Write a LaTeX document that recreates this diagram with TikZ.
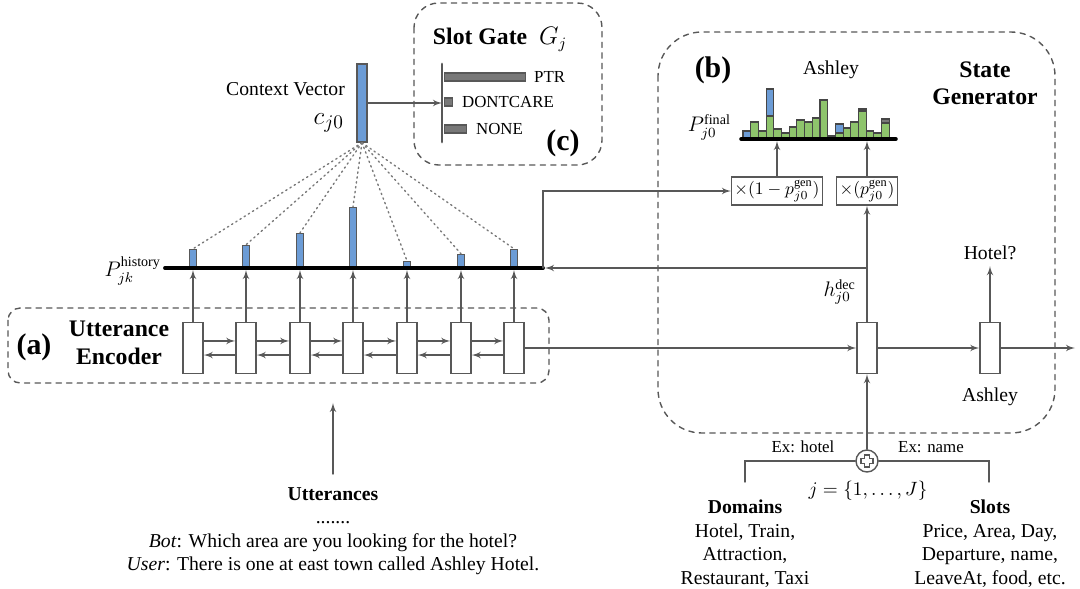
\documentclass[tikz,border=0pt]{standalone}
\usepackage{amsmath}
\usepackage{fontspec}
\setmainfont{Liberation Serif}
\usepackage{tikz}
\usetikzlibrary{arrows}
\usetikzlibrary{calc}

\definecolor{linegray}{RGB}{88,88,88}
\definecolor{barblue}{RGB}{108,156,214}
\definecolor{bargreen}{RGB}{142,196,108}
\definecolor{bargray}{RGB}{120,120,120}

\tikzset{
	cell/.style = {draw=linegray, thick, fill=white, minimum width=0.4cm, minimum height=1.02cm, inner sep=0pt},
	flow/.style = {->, >=latex', draw=linegray, thick},
	part/.style = {draw=linegray, dashed, thick},
	hbar/.style = {draw=linegray, fill=barblue, line width=0.7pt, minimum width=0.15cm, inner sep=0pt},
	gbar/.style = {draw=linegray, fill=bargray, line width=0.7pt, minimum height=0.16cm, inner sep=0pt},
	hist/.style = {draw=linegray!80!black, line width=0.6pt},
	txt/.style = {font=\fontsize{11.2}{13.4}\selectfont},
	smalltxt/.style = {font=\fontsize{9.6}{11.5}\selectfont},
	boldtitle/.style = {font=\fontsize{13.5}{15.6}\selectfont\bfseries},
	parttag/.style = {font=\fontsize{17}{20}\selectfont\bfseries},
	mathtxt/.style = {font=\fontsize{12}{14}\selectfont},
	mult/.style = {draw=linegray, thick, inner sep=1.6pt, font=\fontsize{10}{12}\selectfont},
}

\begin{document}
\begin{tikzpicture}[x=0.02cm, y=-0.02cm, line cap=round]
	\useasboundingbox (0,0) rectangle (1080,589);

	% (a) utterance encoder
	\draw [part, rounded corners=7pt] (8,308) rectangle (549,383);
	\node [parttag] at (34,347) {(a)};
	\node [boldtitle, align=center] at (119,343) {Utterance\\Encoder};
	\foreach \x [count=\i] in {193,246,300,353,407,461,514}
		\node [cell] (e\i) at (\x,348) {};
	\foreach \i [evaluate=\i as \j using int(\i+1)] in {1,...,6} {
		\draw [flow] ([yshift=4pt]e\i.east) -- ([yshift=4pt]e\j.west);
		\draw [flow] ([yshift=-4pt]e\j.west) -- ([yshift=-4pt]e\i.east);
	}

	% history attention
	\coordinate (hl) at (165,268);
	\coordinate (hr) at (543,268);
	\foreach \h [count=\i] in {18,22,34,60,6,13,18} {
		\node [hbar, minimum height=\h*0.02cm, anchor=south] (b\i) at (e\i.north |- hl) {};
		\draw [flow] (e\i.north) -- ($(e\i.north |- hl)+(0,2)$);
	}
	\draw [line width=2.2pt] (hl) -- (hr);
	\node [mathtxt, anchor=east] at (167,271) {$P_{jk}^{\text{history}}$};

	% context vector
	\node [draw=linegray, thick, fill=barblue, minimum width=0.2cm, minimum height=1.56cm, inner sep=0pt] (cv) at (362,103) {};
	\node [txt, anchor=east] at (351,89) {Context Vector};
	\node [anchor=east, font=\fontsize{15}{17}\selectfont] at (350,123) {$c_{j0}$};
	\foreach \i in {1,...,7}
		\draw [dotted, line width=0.8pt, linegray!80] (cv.south) -- (b\i.north);

	% (c) slot gate
	\draw [part, rounded corners=14pt] (414,3) rectangle (602,165);
	\node [boldtitle] at (500,39) {Slot Gate\ \ $G_j$};
	\coordinate (gt) at (442,64);
	\coordinate (gb) at (442,142);
	\node [gbar, minimum width=81*0.02cm, anchor=west] (ptr) at (444,77) {};
	\node [gbar, minimum width=8*0.02cm, anchor=west] (dc) at (444,102) {};
	\node [gbar, minimum width=22*0.02cm, anchor=west] (none) at (444,129) {};
	\draw [line width=1.6pt, linegray] (gt) -- (gb);
	\node [smalltxt, right, xshift=1pt] at (ptr.east) {PTR};
	\node [smalltxt, right, xshift=1.5pt] at (dc.east) {DONTCARE};
	\node [smalltxt, right, xshift=1.5pt] at (none.east) {NONE};
	\draw [flow] (cv.east) -- (cv.east -| gt);
	\node [parttag] at (563,143) {(c)};

	% (b) state generator
	\draw [part, rounded corners=25pt] (658,32) rectangle (1055,433);
	\node [parttag] at (713,70) {(b)};
	\node [txt] at (831,70) {Ashley};
	\node [boldtitle, align=center] at (985,83) {State\\Generator};
	\node [cell] (d1) at (867,348) {};
	\node [cell] (d2) at (990,348) {};
	\coordinate (out) at (1075,348);
	\draw [flow] (e7.east) -- (d1.west);
	\draw [flow] (d1.east) -- (d2.west);
	\draw [flow] (d2.east) -- (out);
	\node [txt] (hotel) at (990,253) {Hotel?};
	\draw [flow] (d2.north) -- (hotel.south);
	\node [txt] at (990,397) {Ashley};

	\node [mult] (m1) at (777,191) {$\times(1-p_{j0}^{\text{gen}})$};
	\node [mult] (m2) at (867,191) {$\times(p_{j0}^{\text{gen}})$};
	\coordinate (br) at (d1.north |- hr);
	\draw [flow] (d1.north) -- (m2.south);
	\draw [flow] (br) -- ($(hr)+(2,0)$);
	\draw [flow] (hr) |- (m1.west);
	\node [mathtxt, anchor=east] at (862,292) {$h_{j0}^{\text{dec}}$};

	% final distribution
	\coordinate (fl) at (741,139);
	\coordinate (fr) at (896,139);
	\foreach \g/\t/\c [count=\n] in {0/8/barblue, 17/17/bargreen, 8/8/bargreen, 23/50/barblue, 10/10/bargreen,
			6/6/bargreen, 12/12/bargreen, 19/19/bargreen, 17/17/bargreen, 21/21/bargreen, 39/39/bargreen,
			0/3/bargray, 6/15/barblue, 11/11/bargreen, 17/17/bargreen, 28/30/bargray, 8/8/bargreen,
			6/6/bargreen, 16/20/bargray} {
		\draw [hist, fill=bargreen] ({743+(\n-1)*7.7},139) rectangle ++(7.7,-\g);
		\draw [hist, fill=\c] ({743+(\n-1)*7.7},{139-\g}) rectangle ++(7.7,{-(\t-\g)});
	}
	\draw [line width=2pt] (fl) -- (fr);
	\draw [flow] (m1.north) -- ($(m1.north |- fl)+(0,2)$);
	\draw [flow] (m2.north) -- ($(m2.north |- fl)+(0,2)$);
	\node [mathtxt, anchor=east] at (737,127) {$P_{j0}^{\text{final}}$};

	% domains and slots
	\node [draw=linegray, thick, circle, minimum size=0.44cm, inner sep=0pt, fill=white] (plus) at (867,461) {};
	\draw [linegray, thick] (plus.center) ++(-2.5,-6) -- ++(5,0) -- ++(0,3.5) -- ++(3.5,0) -- ++(0,5) -- ++(-3.5,0)
		-- ++(0,3.5) -- ++(-5,0) -- ++(0,-3.5) -- ++(-3.5,0) -- ++(0,-5) -- ++(3.5,0) -- cycle;
	\draw [flow] (plus.north) -- (d1.south);
	\coordinate (dl) at (745,482);
	\coordinate (sl) at (989,482);
	\draw [linegray, thick] (plus.west) -| (dl);
	\draw [linegray, thick] (plus.east) -| (sl);
	\node [smalltxt] at (803,447) {Ex: hotel};
	\node [smalltxt] at (931,447) {Ex: name};
	\node [txt] at (868,491) {$j=\{1,\ldots,J\}$};
	\node [txt, align=center, anchor=north] (dom) at (745,494) {\textbf{Domains}\\Hotel, Train,\\Attraction,\\Restaurant, Taxi};
	\node [txt, align=center, anchor=north] (slot) at (990,494) {\textbf{Slots}\\Price, Area, Day,\\Departure, name,\\LeaveAt, food, etc.};

	% utterances
	\node [txt, align=center, anchor=north] (utt) at (333,481) {\textbf{Utterances}\\.......\\\textit{Bot}: Which area are you looking for the hotel?\\\textit{User}: There is one at east town called Ashley Hotel.};
	\draw [flow] ([yshift=4pt]utt.north) -- ++(0,-71);
\end{tikzpicture}
\end{document}
